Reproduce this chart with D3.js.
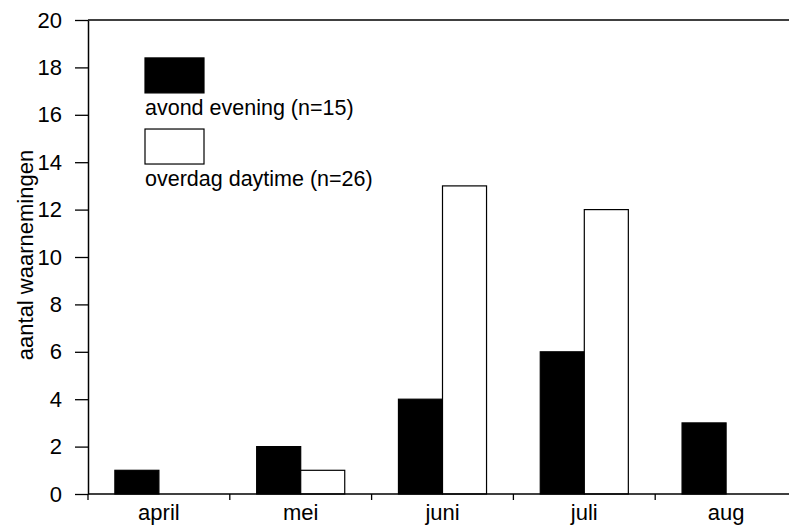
<!DOCTYPE html>
<html>
<head>
<meta charset="utf-8">
<script src="https://cdn.jsdelivr.net/npm/d3@7"></script>
<style>
  html, body { margin: 0; padding: 0; background: #fff; }
  svg { display: block; }
  text { font-family: "Liberation Sans", Arial, Helvetica, sans-serif; fill: #000; }
</style>
</head>
<body>
<svg id="chart" width="789" height="527"></svg>
<script>
// ---- data ----
const months = ["april", "mei", "juni", "juli", "aug"];
const seriesNames = ["avond evening (n=15)", "overdag daytime (n=26)"];
const evening = [1, 2, 4, 6, 3];
const daytime = [0, 1, 13, 12, 0];
const yTicks = [0, 2, 4, 6, 8, 10, 12, 14, 16, 18, 20];
const yLabel = "aantal waarnemingen";

(function () {
const seriesKeys = ["evening", "daytime"];
const seriesFill = { evening: "#000", daytime: "#fff" };
const rows = months.map((m, i) => ({ month: m, evening: evening[i], daytime: daytime[i] }));
const FONT = "'Liberation Sans', Arial, sans-serif";

const svg = d3.select("#chart");
const pLeft = 88, pRight = 797, pTop = 20, pBottom = 494;

const x0 = d3.scaleBand().domain(months).range([pLeft, pRight]).paddingInner(0).paddingOuter(0);
const x1 = d3.scaleBand().domain(seriesKeys).range([0, x0.bandwidth()]).paddingInner(0).paddingOuter(0.61);
const y = d3.scaleLinear().domain([0, 20]).range([pBottom, pTop]);

// bars
const groups = svg.append("g").selectAll("g").data(rows).join("g")
  .attr("transform", d => `translate(${x0(d.month)},0)`);
groups.selectAll("rect").data(d => seriesKeys.map(k => ({ key: k, value: d[k] })).filter(e => e.value > 0)).join("rect")
  .attr("x", d => x1(d.key))
  .attr("y", d => y(d.value))
  .attr("width", x1.bandwidth())
  .attr("height", d => y(0) - y(d.value))
  .attr("fill", d => seriesFill[d.key])
  .attr("stroke", "#000")
  .attr("stroke-width", 1.2);

// y axis
const yAxis = svg.append("g").attr("transform", `translate(${pLeft},0)`)
  .call(d3.axisLeft(y).tickValues(yTicks).tickSize(13).tickPadding(13).tickSizeOuter(0));
yAxis.select(".domain").attr("stroke-width", 1.5);
yAxis.selectAll(".tick line").attr("stroke-width", 1.3);
yAxis.selectAll("text").style("font-size", "22px").style("font-family", FONT);

// top frame line
svg.append("line").attr("x1", pLeft).attr("x2", 789).attr("y1", y(20)).attr("y2", y(20))
  .attr("stroke", "#000").attr("stroke-width", 1.5);

// x axis baseline
svg.append("line").attr("x1", pLeft).attr("x2", 789).attr("y1", y(0)).attr("y2", y(0))
  .attr("stroke", "#000").attr("stroke-width", 1.5);

// boundary ticks
svg.append("g").selectAll("line").data(months).join("line")
  .attr("x1", d => x0(d)).attr("x2", d => x0(d))
  .attr("y1", y(0)).attr("y2", y(0) + 6)
  .attr("stroke", "#000").attr("stroke-width", 1.3);

// x labels
const xAxis = svg.append("g").attr("transform", `translate(0,${y(0)})`)
  .call(d3.axisBottom(x0).tickSize(0).tickPadding(10));
xAxis.select(".domain").remove();
xAxis.selectAll("text").style("font-size", "22px").style("font-family", FONT);

// y label
svg.append("text")
  .attr("transform", `translate(33,255) rotate(-90)`)
  .attr("text-anchor", "middle")
  .style("font-size", "22px")
  .text(yLabel);

// legend
const legendY = [18.4, 15.4];
const legend = svg.append("g").selectAll("g").data(seriesKeys).join("g");
legend.append("rect")
  .attr("x", 145).attr("width", 59)
  .attr("y", (d, i) => y(legendY[i])).attr("height", 35)
  .attr("fill", d => seriesFill[d]).attr("stroke", "#000").attr("stroke-width", 1.2);
legend.append("text")
  .attr("x", 145)
  .attr("y", (d, i) => y(legendY[i]) + 57)
  .style("font-size", "21.5px")
  .text((d, i) => seriesNames[i]);
})();
</script>
</body>
</html>
